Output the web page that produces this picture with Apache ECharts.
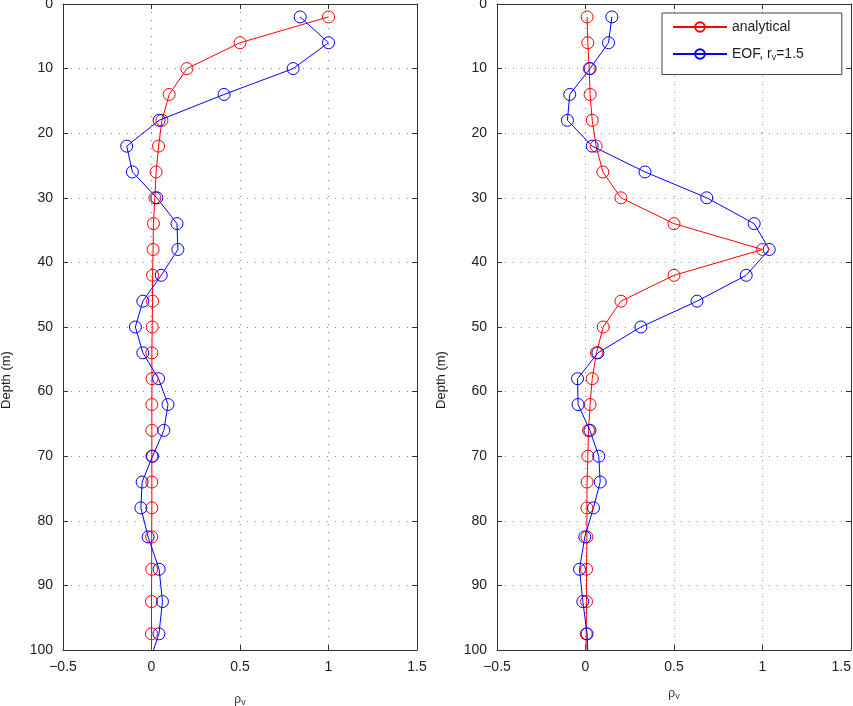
<!DOCTYPE html>
<html>
<head>
<meta charset="utf-8">
<script src="https://cdn.jsdelivr.net/npm/echarts@6/dist/echarts.min.js"></script>
<style>
  html,body{margin:0;padding:0;background:#fff;}
  #main{width:853px;height:706px;}
</style>
</head>
<body>
<div id="main"></div>
<script>
// depth of each sample (m), last one lies just below the plot
var depths = [2, 6, 10, 14, 18, 22, 26, 30, 34, 38, 42, 46, 50, 54, 58, 62, 66, 70, 74, 78, 82.5, 87.5, 92.5, 97.5, 102.5];

// left panel
var leftAnalytical = [1.0, 0.50, 0.20, 0.10, 0.059, 0.04, 0.026, 0.019, 0.011, 0.009, 0.006, 0.006, 0.004, 0.002, 0.003, 0.002, 0.002, 0.002, 0.002, 0.002, 0.001, 0.001, 0.0, 0.0, 0.0];
var leftEOF = [0.84, 1.0, 0.80, 0.41, 0.043, -0.14, -0.108, 0.03, 0.144, 0.149, 0.055, -0.049, -0.091, -0.049, 0.04, 0.093, 0.07, 0.006, -0.053, -0.06, -0.019, 0.043, 0.062, 0.042, -0.02];

// right panel
var rightAnalytical = [0.009, 0.013, 0.021, 0.026, 0.038, 0.06, 0.098, 0.20, 0.50, 1.0, 0.50, 0.20, 0.10, 0.062, 0.038, 0.026, 0.017, 0.013, 0.009, 0.008, 0.008, 0.006, 0.006, 0.004, 0.002];
var rightEOF = [0.149, 0.13, 0.026, -0.089, -0.102, 0.038, 0.336, 0.685, 0.953, 1.038, 0.908, 0.63, 0.313, 0.07, -0.045, -0.042, 0.025, 0.075, 0.083, 0.045, -0.004, -0.034, -0.015, 0.009, 0.017];

var xTicks = {min: -0.5, max: 1.5, interval: 0.5};
var yTicks = {min: 0, max: 100, interval: 10};

var FONT = '"Liberation Sans", Arial, Helvetica, sans-serif';
var AXIS_COLOR = '#333';

function pairs(vals){
  return vals.map(function(v, i){ return [v, depths[i]]; });
}

function xLabel(v){
  return v < 0 ? '\u2212' + Math.abs(v) : String(v);
}

function xAxes(g, gap, alignMax){
  var base = {
    type: 'value', gridIndex: g, min: xTicks.min, max: xTicks.max, interval: xTicks.interval,
    axisLine: {show: true, onZero: false, lineStyle: {color: AXIS_COLOR, width: 1}},
    axisTick: {show: true, inside: true, length: 5, lineStyle: {color: AXIS_COLOR}}
  };
  return [
    Object.assign({}, base, {
      position: 'bottom',
      axisLabel: {formatter: xLabel, fontSize: 14, color: '#222', fontFamily: FONT, margin: 10, alignMaxLabel: alignMax},
      splitLine: {show: true, lineStyle: {color: '#8a8a8a', type: [1, 7], width: 1}},
      name: '{a|ρ}{s|v}', nameLocation: 'middle', nameGap: gap,
      nameTextStyle: {rich: {
        a: {fontSize: 12, color: '#333', fontFamily: FONT},
        s: {fontSize: 9, color: '#333', fontFamily: FONT, verticalAlign: 'bottom', padding: [6, 0, 0, 0]}
      }}
    }),
    Object.assign({}, base, {position: 'top', axisLabel: {show: false}, splitLine: {show: false}})
  ];
}

function yAxes(g){
  var base = {
    type: 'value', gridIndex: g, inverse: true, min: yTicks.min, max: yTicks.max, interval: yTicks.interval,
    axisLine: {show: true, onZero: false, lineStyle: {color: AXIS_COLOR, width: 1}},
    axisTick: {show: true, inside: true, length: 5, lineStyle: {color: AXIS_COLOR}}
  };
  return [
    Object.assign({}, base, {
      position: 'left',
      axisLabel: {fontSize: 14, color: '#222', fontFamily: FONT, margin: 10},
      splitLine: {show: true, lineStyle: {color: '#8a8a8a', type: [1, 7], width: 1}}
    }),
    Object.assign({}, base, {position: 'right', axisLabel: {show: false}, splitLine: {show: false}})
  ];
}

function line(name, vals, color, g){
  return {
    name: name, type: 'line', xAxisIndex: g * 2, yAxisIndex: g * 2,
    data: pairs(vals),
    symbol: 'circle', symbolSize: 12,
    lineStyle: {color: color, width: 1},
    itemStyle: {color: 'rgba(0,0,0,0)', borderColor: color, borderWidth: 1},
    clip: true
  };
}

var myChart = echarts.init(document.getElementById('main'));
var option = {
  animation: false,
  backgroundColor: '#fff',
  grid: [
    {left: 63, right: 436, top: 4, bottom: 56, outerBoundsMode: 'none', containLabel: false},
    {left: 497, right: 2, top: 4, bottom: 56, outerBoundsMode: 'none', containLabel: false}
  ],
  xAxis: xAxes(0, 42, null).concat(xAxes(1, 36, 'right')),
  yAxis: yAxes(0).concat(yAxes(1)),
  legend: {
    data: ['analytical', 'EOF'],
    orient: 'vertical',
    left: 662, top: 13,
    padding: [7, 38, 12, 10],
    itemWidth: 54, itemHeight: 12, itemGap: 13,
    backgroundColor: '#fff',
    borderColor: '#444', borderWidth: 1, borderRadius: 0,
    formatter: function(n){ return n === 'EOF' ? 'EOF, r{s|v}=1.5' : n; },
    textStyle: {fontSize: 14, color: '#222', fontFamily: FONT,
      rich: {s: {fontSize: 9, color: '#222', fontFamily: FONT, verticalAlign: 'bottom', padding: [8, 0, 0, 0]}}}
  },
  graphic: [
    {type: 'text', x: 6, y: 380, rotation: Math.PI / 2,
      style: {text: 'Depth (m)', fill: '#222', font: '13px ' + FONT, textAlign: 'center', textVerticalAlign: 'middle'}},
    {type: 'text', x: 441, y: 380, rotation: Math.PI / 2,
      style: {text: 'Depth (m)', fill: '#222', font: '13px ' + FONT, textAlign: 'center', textVerticalAlign: 'middle'}}
  ],
  series: [
    line('analytical', leftAnalytical, '#ff0000', 0),
    line('EOF', leftEOF, '#0000ff', 0),
    line('analytical', rightAnalytical, '#ff0000', 1),
    line('EOF', rightEOF, '#0000ff', 1)
  ]
};
myChart.setOption(option);
</script>
</body>
</html>
